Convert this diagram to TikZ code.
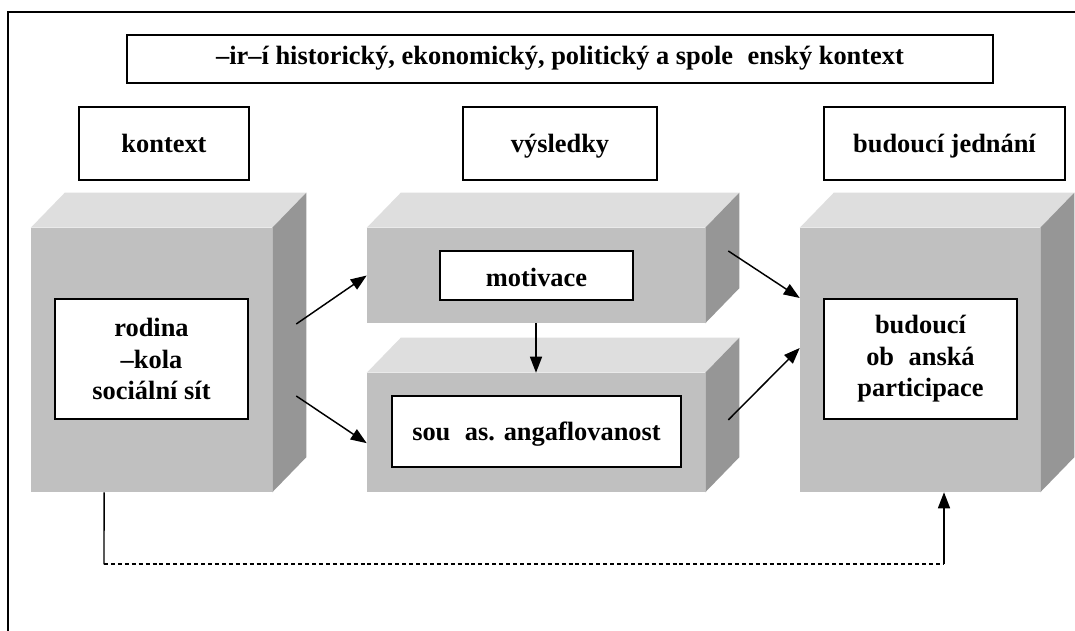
\documentclass[tikz,border=0pt]{standalone}
\usepackage{fontspec}
\setmainfont{Liberation Serif}
\usetikzlibrary{arrows.meta,calc}
\definecolor{frontgray}{HTML}{C0C0C0}
\definecolor{topgray}{HTML}{DEDEDE}
\definecolor{sidegray}{HTML}{969696}

\begin{document}
\begin{tikzpicture}
    [x=0.75pt, y=-0.75pt,
    every node/.style = {font=\bfseries\fontsize{19.8}{23.6}\selectfont, align=center},
    head/.style = {draw, line width=1.1pt, fill=white, minimum height=54.75pt,
        text height=16pt, text depth=2pt},
    block/.style = {fill=frontgray, inner sep=0pt},
    inbox/.style = {draw, line width=1.1pt, fill=white},
    arr/.style = {-{Triangle[length=12pt,width=9pt]}, line width=1.1pt}
    ]
    \useasboundingbox (0,0) rectangle (1075,631);
    % frame
    \draw [line width=1.1pt] (8,631) -- (8,12) -- (1075,12);

    % headings
    \node (wider) [head, minimum width=649.5pt, minimum height=36pt,
        text height=13.5pt, text depth=4.5pt] at (560,59)
        {–ir–í historický, ekonomický, politický a spole\hspace{0.55em}enský kontext};
    \node (kontext) [head, minimum width=127.5pt] at (164,143.5) {kontext};
    \node (vysledky) [head, minimum width=145.5pt] at (560,143.5) {výsledky};
    \node (jednani) [head, minimum width=180.75pt] at (944.5,143.5) {budoucí jednání};

    % blocks
    \node (rodinacube) [block, minimum width=180.75pt, minimum height=198pt] at (151.5,360) {};
    \node (motcube) [block, minimum width=253.5pt, minimum height=71.25pt] at (536,275.5) {};
    \node (angcube) [block, minimum width=253.5pt, minimum height=89.25pt] at (536,432.5) {};
    \node (budcube) [block, minimum width=180pt, minimum height=198pt] at (920,360) {};
    \foreach \c in {rodinacube, motcube, angcube, budcube} {
        \fill [topgray] (\c.north west) -- ++(34,-35) -- ([shift={(34,-35)}]\c.north east)
            -- (\c.north east) -- cycle;
        \fill [sidegray] (\c.north east) -- ++(34,-35) -- ([shift={(34,-35)}]\c.south east)
            -- (\c.south east) -- cycle;
    }

    % inner boxes
    \node (rodina) [inbox, minimum width=144.75pt, minimum height=90pt] at (151.5,359)
        {rodina\\–kola\\sociální sít};
    \node (motivace) [inbox, minimum width=144.75pt, minimum height=36.75pt,
        text height=18.5pt, text depth=1.5pt] at (536.5,275.5) {motivace};
    \node (angazovanost) [inbox, minimum width=216.75pt, minimum height=53.25pt,
        text height=16pt, text depth=3.2pt] at (536.5,431.5)
        {sou\hspace{0.55em}as. angaflovanost};
    \node (participace) [inbox, minimum width=144.75pt, minimum height=90pt] at (920.5,359)
        {budoucí\\ob\hspace{0.55em}anská\\participace};

    % connectors
    \draw [arr] ([shift={(18pt,27pt)}]rodinacube.east) -- (motcube.west);
    \draw [arr] ([shift={(18pt,-27pt)}]rodinacube.east) -- ([yshift=-8pt]angcube.west);
    \draw [arr] ([shift={(17.25pt,18.4pt)}]motcube.east) -- ([yshift=46.5pt]budcube.west);
    \draw [arr] ([shift={(17.25pt,9.4pt)}]angcube.east) -- ([yshift=9pt]budcube.west);
    \draw [arr] (motcube.south) -- (angcube.north);

    % feedback loop
    \coordinate (fbleft) at ($(rodinacube.south)+(-47.5,72)$);
    \coordinate (fbright) at ($(budcube.south)+(24,72)$);
    \draw [line width=1.1pt] ([xshift=-35.6pt]rodinacube.south) -- (fbleft);
    \draw [line width=1.3pt, dash pattern=on 3pt off 2.2pt] (fbleft) -- (fbright);
    \draw [arr] (fbright) -- ([xshift=18pt]budcube.south);
\end{tikzpicture}
\end{document}
